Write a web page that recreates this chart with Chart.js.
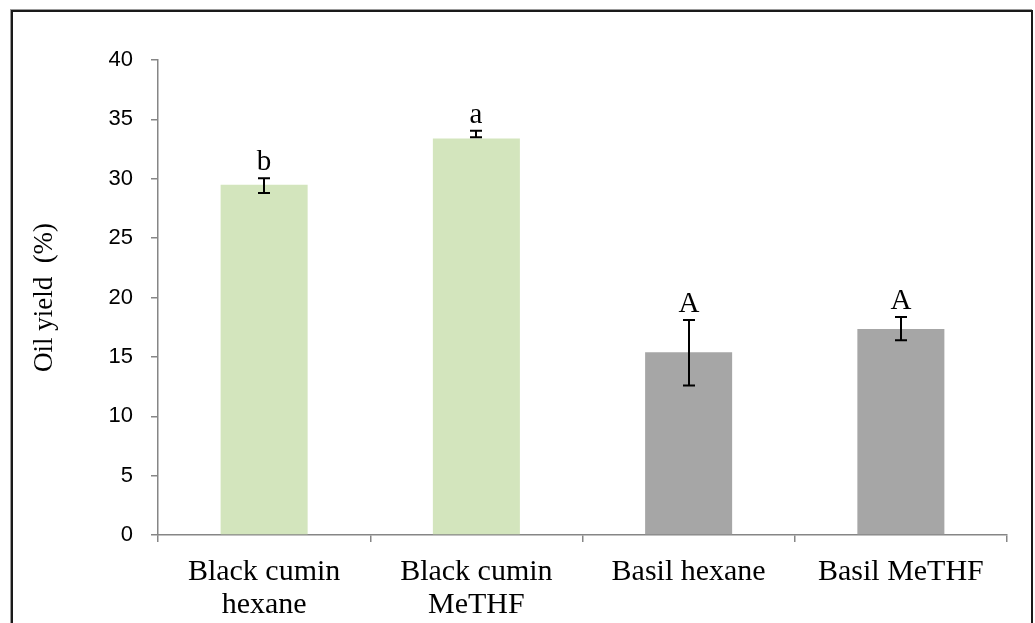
<!DOCTYPE html>
<html>
<head>
<meta charset="utf-8">
<script src="https://cdn.jsdelivr.net/npm/chart.js@4.4.1/dist/chart.umd.min.js"></script>
<style>
  html, body { margin: 0; padding: 0; background: #fff; }
  #wrap { position: relative; width: 1035px; height: 623px; overflow: hidden; }
  #frame { position: absolute; left: 11px; top: 10px; width: 1018px; height: 700px; border: 2px solid #1a1a1a; box-shadow: -1px -1px 0 #999; }
  canvas { position: absolute; left: 0; top: 0; }
</style>
</head>
<body>
<div id="wrap">
  <div id="frame"></div>
  <canvas id="c" width="1035" height="623"></canvas>
</div>
<script>
const categories = [["Black cumin", "hexane"], ["Black cumin", "MeTHF"], "Basil hexane", "Basil MeTHF"];
const oilYield = [29.5, 33.4, 15.4, 17.35];
const errorLow = [28.8, 33.5, 12.6, 16.4];
const errorHigh = [30.05, 34.05, 18.1, 18.35];
const letters = ["b", "a", "A", "A"];
const barColors = ["#d3e5bd", "#d3e5bd", "#a6a6a6", "#a6a6a6"];
const yTicks = [0, 5, 10, 15, 20, 25, 30, 35, 40];

const errorBarPlugin = {
  id: 'errorBars',
  afterDatasetsDraw(chart) {
    const ctx = chart.ctx;
    const meta = chart.getDatasetMeta(0);
    const ys = chart.scales.y;
    ctx.save();
    ctx.strokeStyle = '#000';
    ctx.lineWidth = 2;
    ctx.fillStyle = '#000';
    ctx.font = '29px "Liberation Serif", "Times New Roman", serif';
    ctx.textAlign = 'center';
    ctx.textBaseline = 'alphabetic';
    meta.data.forEach((bar, i) => {
      const x = Math.round(bar.x);
      const yTop = ys.getPixelForValue(errorHigh[i]);
      const yBot = ys.getPixelForValue(errorLow[i]);
      const cap = 6;
      ctx.beginPath();
      ctx.moveTo(x, yTop); ctx.lineTo(x, yBot);
      ctx.moveTo(x - cap, yTop); ctx.lineTo(x + cap, yTop);
      ctx.moveTo(x - cap, yBot); ctx.lineTo(x + cap, yBot);
      ctx.stroke();
      ctx.fillText(letters[i], x, yTop - 8);
    });
    ctx.restore();
  }
};

new Chart(document.getElementById('c'), {
  type: 'bar',
  data: {
    labels: categories,
    datasets: [{
      data: oilYield,
      backgroundColor: barColors,
      borderWidth: 0,
      categoryPercentage: 1.0,
      barPercentage: 0.41
    }]
  },
  options: {
    responsive: false,
    animation: false,
    events: [],
    layout: { padding: { left: 20, right: 28, top: 60, bottom: 0 } },
    plugins: { legend: { display: false }, tooltip: { enabled: false } },
    scales: {
      y: {
        min: 0, max: 40,
        afterBuildTicks(scale) { scale.ticks = yTicks.map(v => ({ value: v })); },
        afterFit(scale) { scale.width = 138; },
        border: { display: true, color: '#868686', width: 1.5 },
        grid: { drawOnChartArea: false, drawTicks: true, tickLength: 7, color: '#868686', lineWidth: 1.5 },
        ticks: { color: '#000', padding: 18, font: { family: '"Liberation Sans", Arial, sans-serif', size: 22 } },
        title: { display: true, text: 'Oil yield  (%)', color: '#000', padding: { top: 9, bottom: 0 },
                 font: { family: '"Liberation Serif", "Times New Roman", serif', size: 27 } }
      },
      x: {
        afterFit(scale) { scale.height = 88; },
        border: { display: true, color: '#868686', width: 1.5 },
        grid: { drawOnChartArea: false, drawTicks: true, tickLength: 7, color: '#868686', lineWidth: 1.5, offset: true },
        ticks: { color: '#000', padding: 14, maxRotation: 0, autoSkip: false,
                 font: { family: '"Liberation Serif", "Times New Roman", serif', size: 30, lineHeight: 1.1 } }
      }
    }
  },
  plugins: [errorBarPlugin]
});
</script>
</body>
</html>
